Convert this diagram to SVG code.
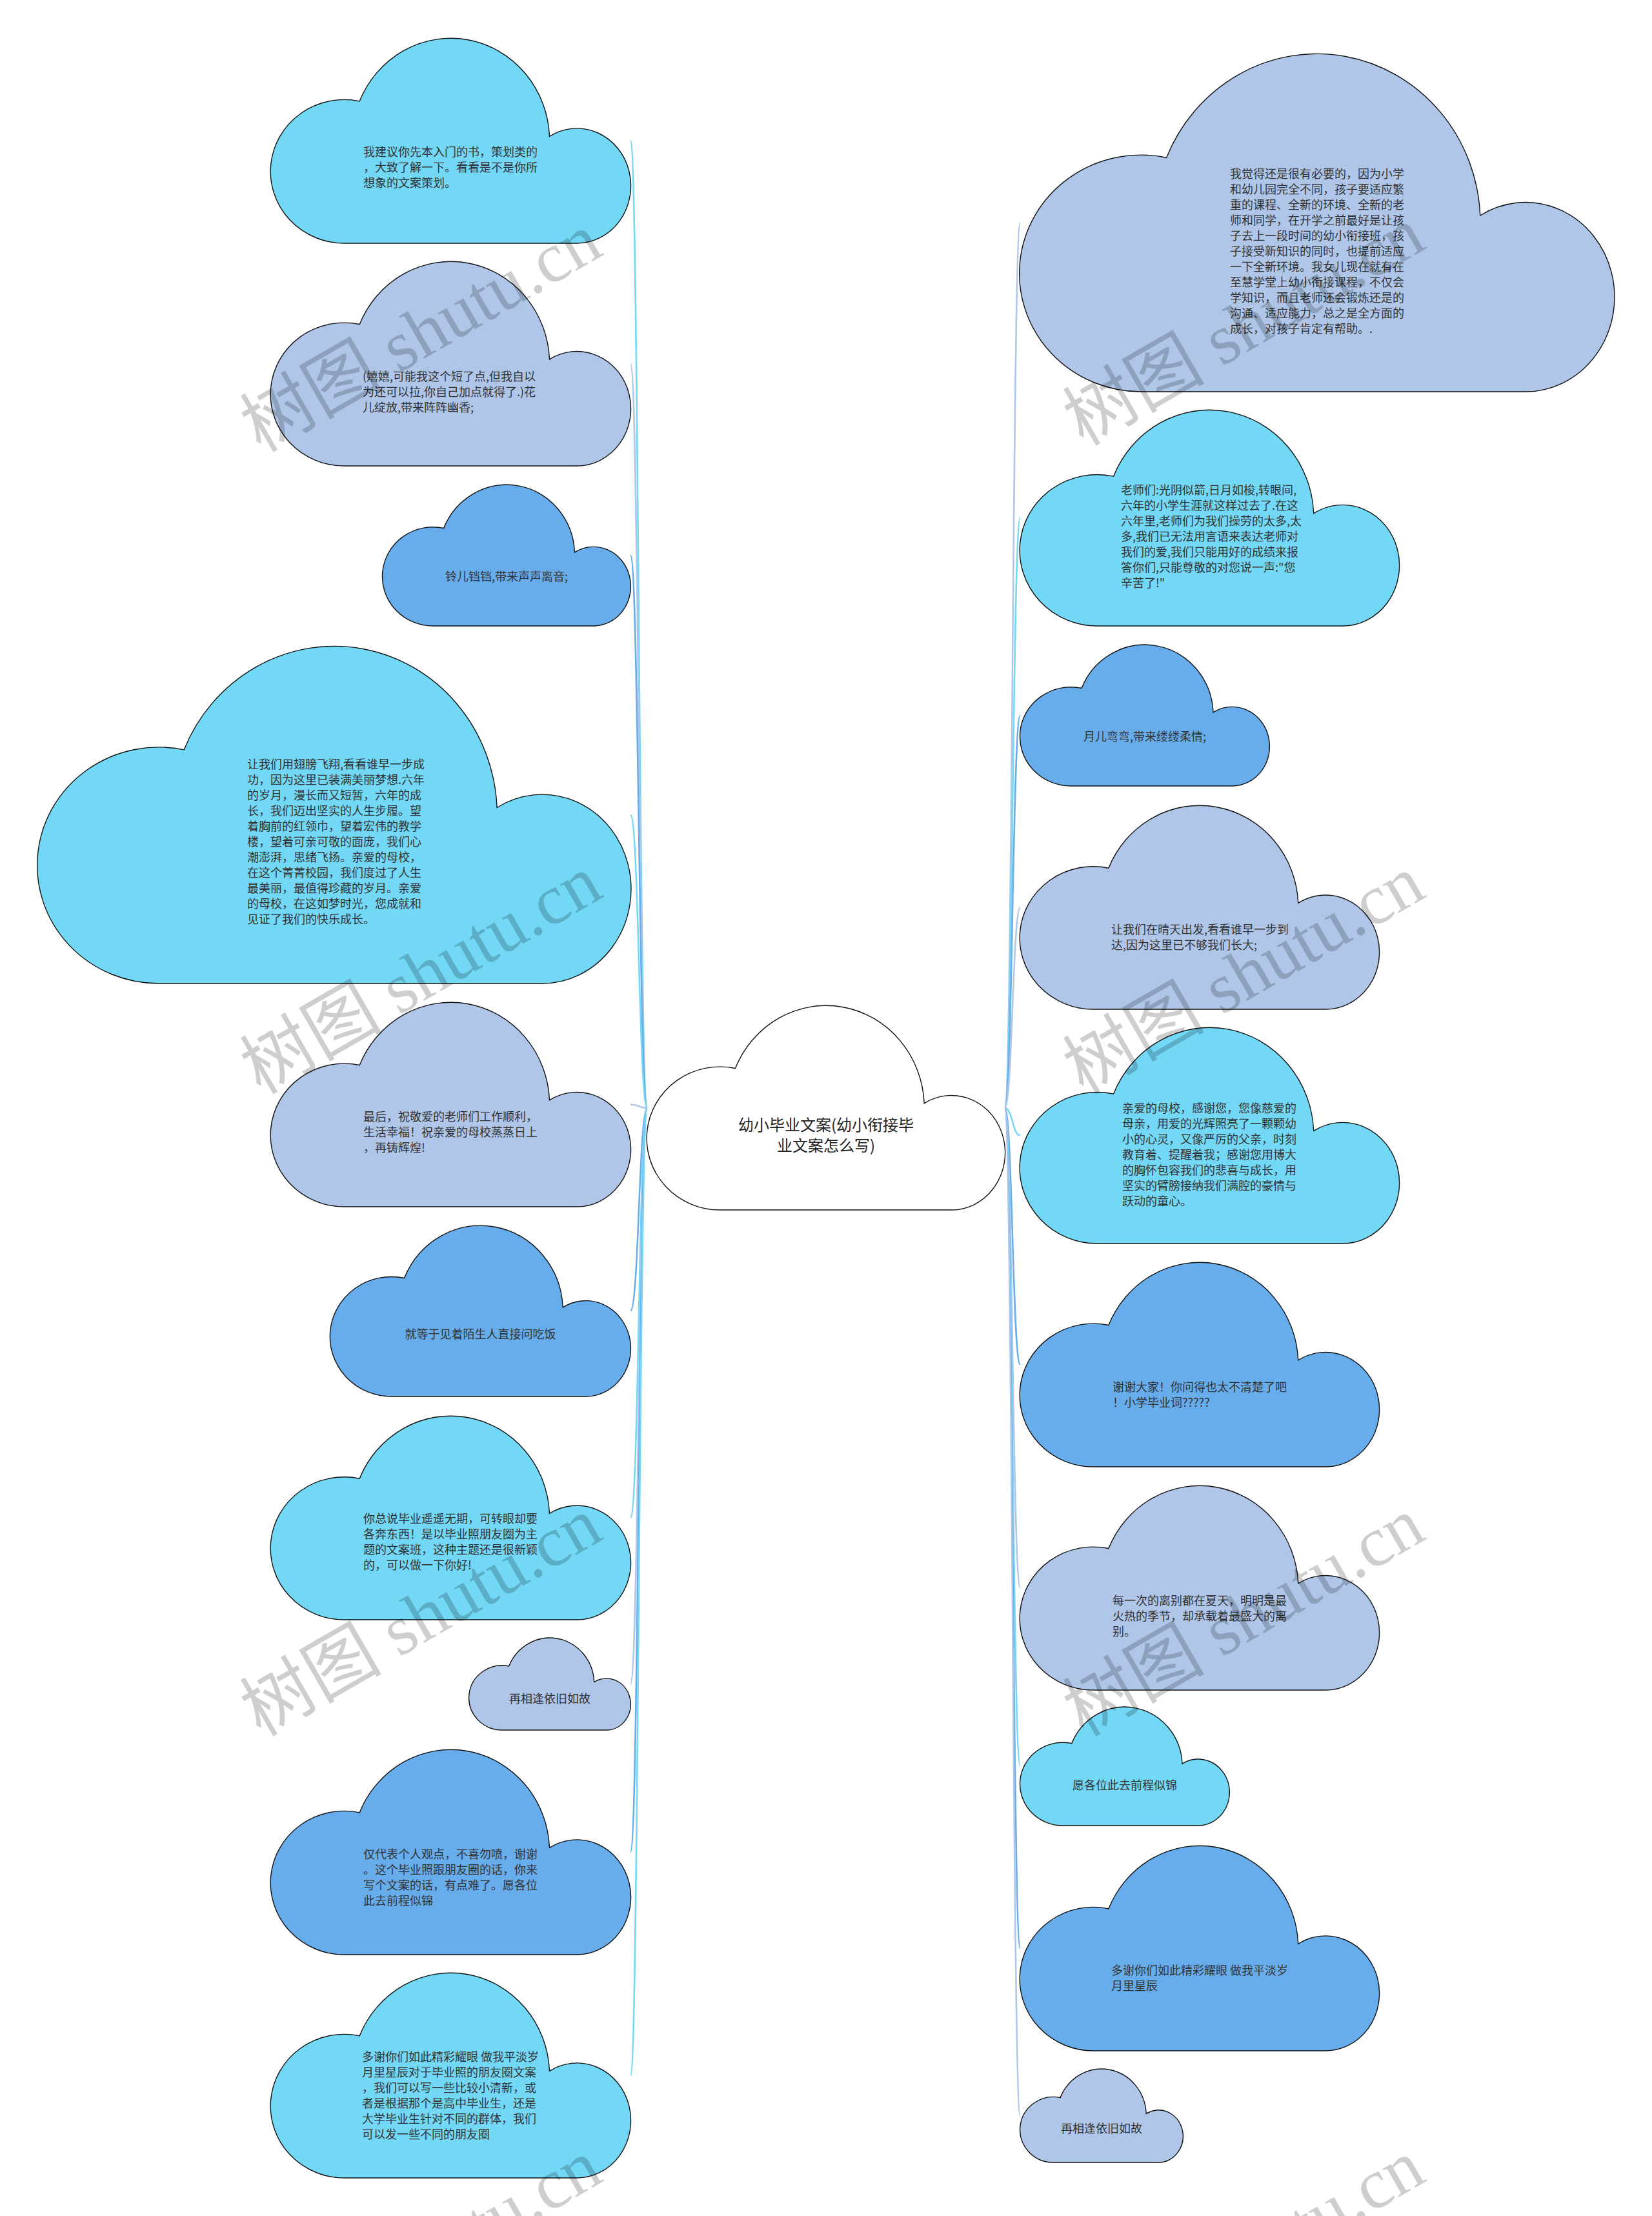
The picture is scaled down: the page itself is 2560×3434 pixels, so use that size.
<svg xmlns="http://www.w3.org/2000/svg" width="2560" height="3434" viewBox="0 0 2560 3434">
<defs>
<path id="cloud" d="M20.5 100 A20.5 35 0 1 1 24.63 30.77 A27.5 50 0 0 1 77.47 47.9 A15 28 0 1 1 85 100 Z" vector-effect="non-scaling-stroke"/>
</defs>
<style>
.cloud{stroke:#111111;stroke-width:1.4}
.c1{fill:#72D8F5}.c2{fill:#AFC6E9}.c3{fill:#67ADEC}.c0{fill:#ffffff}
.t{font-family:"Noto Sans CJK SC","Noto Sans",sans-serif;font-size:18px;fill:#333333}
.tc{font-size:24px;fill:#222222}
.m{text-anchor:middle}
.e{fill:none;stroke-width:2.5}
.e1{stroke:#72D8F5}.e2{stroke:#AFC6E9}.e3{stroke:#67ADEC}
.wm{font-family:"Liberation Serif","Noto Sans CJK SC",serif;font-size:110px;fill:#000000;opacity:0.19;text-anchor:middle}
</style>
<rect width="2560" height="3434" fill="#ffffff"/>
<g id="connectors">
<path class="e e1" d="M1003 1717 C990 1717 990 218 977 218"/>
<path class="e e2" d="M1003 1717 C990 1717 990 563.5 977 563.5"/>
<path class="e e3" d="M1003 1717 C990 1717 990 860.5 977 860.5"/>
<path class="e e1" d="M1003 1717 C990 1717 990 1262.5 977 1262.5"/>
<path class="e e2" d="M1003 1717 C990 1717 990 1711.5 977 1711.5"/>
<path class="e e3" d="M1003 1717 C990 1717 990 2031.5 977 2031.5"/>
<path class="e e1" d="M1003 1717 C990 1717 990 2352 977 2352"/>
<path class="e e2" d="M1003 1717 C990 1717 990 2609.5 977 2609.5"/>
<path class="e e3" d="M1003 1717 C990 1717 990 2870 977 2870"/>
<path class="e e1" d="M1003 1717 C990 1717 990 3216 977 3216"/>
<path class="e e2" d="M1557 1717 C1569 1717 1569 345 1581 345"/>
<path class="e e1" d="M1557 1717 C1569 1717 1569 802.5 1581 802.5"/>
<path class="e e3" d="M1557 1717 C1569 1717 1569 1108.5 1581 1108.5"/>
<path class="e e2" d="M1557 1717 C1569 1717 1569 1406 1581 1406"/>
<path class="e e1" d="M1557 1717 C1569 1717 1569 1759.5 1581 1759.5"/>
<path class="e e3" d="M1557 1717 C1569 1717 1569 2114.5 1581 2114.5"/>
<path class="e e2" d="M1557 1717 C1569 1717 1569 2460.5 1581 2460.5"/>
<path class="e e1" d="M1557 1717 C1569 1717 1569 2737 1581 2737"/>
<path class="e e3" d="M1557 1717 C1569 1717 1569 3019 1581 3019"/>
<path class="e e2" d="M1557 1717 C1569 1717 1569 3278.5 1581 3278.5"/>
</g>
<g id="center">
<use href="#cloud" class="cloud c0" transform="translate(1003 1558) scale(5.54 3.17)"/>
<text class="t tc m"><tspan x="1280" y="1752">幼小毕业文案(幼小衔接毕</tspan><tspan x="1280" y="1784">业文案怎么写)</tspan></text>
</g>
<g id="L1">
<use href="#cloud" class="cloud c1" transform="translate(420 59) scale(5.57 3.18)"/>
<text class="t"><tspan x="563" y="242">我建议你先本入门的书，策划类的</tspan><tspan x="563" y="266">，大致了解一下。看看是不是你所</tspan><tspan x="563" y="290">想象的文案策划。</tspan></text>
</g>
<g id="L2">
<use href="#cloud" class="cloud c2" transform="translate(420 405) scale(5.57 3.17)"/>
<text class="t"><tspan x="562" y="590">(嬉嬉,可能我这个短了点,但我自以</tspan><tspan x="562" y="614">为还可以拉,你自己加点就得了.)花</tspan><tspan x="562" y="638">儿绽放,带来阵阵幽香;</tspan></text>
</g>
<g id="L3">
<use href="#cloud" class="cloud c3" transform="translate(593 751) scale(3.84 2.19)"/>
<text class="t m" x="785" y="900">铃儿铛铛,带来声声离音;</text>
</g>
<g id="L4">
<use href="#cloud" class="cloud c1" transform="translate(59 1001) scale(9.18 5.23)"/>
<text class="t"><tspan x="383" y="1191">让我们用翅膀飞翔,看看谁早一步成</tspan><tspan x="383" y="1215">功，因为这里已装满美丽梦想.六年</tspan><tspan x="383" y="1239">的岁月，漫长而又短暂，六年的成</tspan><tspan x="383" y="1263">长，我们迈出坚实的人生步履。望</tspan><tspan x="383" y="1287">着胸前的红领巾，望着宏伟的教学</tspan><tspan x="383" y="1311">楼，望着可亲可敬的面庞，我们心</tspan><tspan x="383" y="1335">潮澎湃，思绪飞扬。亲爱的母校，</tspan><tspan x="383" y="1359">在这个菁菁校园，我们度过了人生</tspan><tspan x="383" y="1383">最美丽，最值得珍藏的岁月。亲爱</tspan><tspan x="383" y="1407">的母校，在这如梦时光，您成就和</tspan><tspan x="383" y="1431">见证了我们的快乐成长。</tspan></text>
</g>
<g id="L5">
<use href="#cloud" class="cloud c2" transform="translate(420 1553) scale(5.57 3.17)"/>
<text class="t"><tspan x="563" y="1737">最后，祝敬爱的老师们工作顺利，</tspan><tspan x="563" y="1761">生活幸福！祝亲爱的母校蒸蒸日上</tspan><tspan x="563" y="1785">，再铸辉煌!</tspan></text>
</g>
<g id="L6">
<use href="#cloud" class="cloud c3" transform="translate(512 1899) scale(4.65 2.65)"/>
<text class="t m" x="744.5" y="2074">就等于见着陌生人直接问吃饭</text>
</g>
<g id="L7">
<use href="#cloud" class="cloud c1" transform="translate(420 2194) scale(5.57 3.16)"/>
<text class="t"><tspan x="563" y="2360">你总说毕业遥遥无期，可转眼却要</tspan><tspan x="563" y="2384">各奔东西！是以毕业照朋友圈为主</tspan><tspan x="563" y="2408">题的文案班，这种主题还是很新颖</tspan><tspan x="563" y="2432">的，可以做一下你好!</tspan></text>
</g>
<g id="L8">
<use href="#cloud" class="cloud c2" transform="translate(727 2538) scale(2.5 1.43)"/>
<text class="t m" x="852" y="2639">再相逢依旧如故</text>
</g>
<g id="L9">
<use href="#cloud" class="cloud c3" transform="translate(420 2711) scale(5.57 3.18)"/>
<text class="t"><tspan x="563" y="2880">仅代表个人观点，不喜勿喷，谢谢</tspan><tspan x="563" y="2904">。这个毕业照跟朋友圈的话，你来</tspan><tspan x="563" y="2928">写个文案的话，有点难了。愿各位</tspan><tspan x="563" y="2952">此去前程似锦</tspan></text>
</g>
<g id="L10">
<use href="#cloud" class="cloud c1" transform="translate(420 3057) scale(5.57 3.18)"/>
<text class="t"><tspan x="561" y="3194">多谢你们如此精彩耀眼 做我平淡岁</tspan><tspan x="561" y="3218">月里星辰对于毕业照的朋友圈文案</tspan><tspan x="561" y="3242">，我们可以写一些比较小清新，或</tspan><tspan x="561" y="3266">者是根据那个是高中毕业生，还是</tspan><tspan x="561" y="3290">大学毕业生针对不同的群体，我们</tspan><tspan x="561" y="3314">可以发一些不同的朋友圈</tspan></text>
</g>
<g id="R1">
<use href="#cloud" class="cloud c2" transform="translate(1581 83) scale(9.2 5.24)"/>
<text class="t"><tspan x="1906" y="276">我觉得还是很有必要的，因为小学</tspan><tspan x="1906" y="300">和幼儿园完全不同，孩子要适应繁</tspan><tspan x="1906" y="324">重的课程、全新的环境、全新的老</tspan><tspan x="1906" y="348">师和同学，在开学之前最好是让孩</tspan><tspan x="1906" y="372">子去上一段时间的幼小衔接班，孩</tspan><tspan x="1906" y="396">子接受新知识的同时，也提前适应</tspan><tspan x="1906" y="420">一下全新环境。我女儿现在就有在</tspan><tspan x="1906" y="444">至慧学堂上幼小衔接课程，不仅会</tspan><tspan x="1906" y="468">学知识，而且老师还会锻炼还是的</tspan><tspan x="1906" y="492">沟通、适应能力，总之是全方面的</tspan><tspan x="1906" y="516">成长，对孩子肯定有帮助。.</tspan></text>
</g>
<g id="R2">
<use href="#cloud" class="cloud c1" transform="translate(1581 635) scale(5.87 3.35)"/>
<text class="t"><tspan x="1737" y="766">老师们:光阴似箭,日月如梭,转眼间,</tspan><tspan x="1737" y="790">六年的小学生涯就这样过去了.在这</tspan><tspan x="1737" y="814">六年里,老师们为我们操劳的太多,太</tspan><tspan x="1737" y="838">多,我们已无法用言语来表达老师对</tspan><tspan x="1737" y="862">我们的爱,我们只能用好的成绩来报</tspan><tspan x="1737" y="886">答你们,只能尊敬的对您说一声:"您</tspan><tspan x="1737" y="910">辛苦了!"</tspan></text>
</g>
<g id="R3">
<use href="#cloud" class="cloud c3" transform="translate(1581 999) scale(3.86 2.19)"/>
<text class="t m" x="1774" y="1148">月儿弯弯,带来缕缕柔情;</text>
</g>
<g id="R4">
<use href="#cloud" class="cloud c2" transform="translate(1581 1248) scale(5.56 3.16)"/>
<text class="t"><tspan x="1722" y="1447">让我们在晴天出发,看看谁早一步到</tspan><tspan x="1722" y="1471">达,因为这里已不够我们长大;</tspan></text>
</g>
<g id="R5">
<use href="#cloud" class="cloud c1" transform="translate(1581 1592) scale(5.87 3.35)"/>
<text class="t"><tspan x="1739" y="1724">亲爱的母校，感谢您，您像慈爱的</tspan><tspan x="1739" y="1748">母亲，用爱的光辉照亮了一颗颗幼</tspan><tspan x="1739" y="1772">小的心灵，又像严厉的父亲，时刻</tspan><tspan x="1739" y="1796">教育着、提醒着我；感谢您用博大</tspan><tspan x="1739" y="1820">的胸怀包容我们的悲喜与成长，用</tspan><tspan x="1739" y="1844">坚实的臂膀接纳我们满腔的豪情与</tspan><tspan x="1739" y="1868">跃动的童心。</tspan></text>
</g>
<g id="R6">
<use href="#cloud" class="cloud c3" transform="translate(1581 1956) scale(5.56 3.17)"/>
<text class="t"><tspan x="1724" y="2156">谢谢大家！你问得也太不清楚了吧</tspan><tspan x="1724" y="2180">！小学毕业词?????</tspan></text>
</g>
<g id="R7">
<use href="#cloud" class="cloud c2" transform="translate(1581 2302) scale(5.56 3.17)"/>
<text class="t"><tspan x="1724" y="2487">每一次的离别都在夏天，明明是最</tspan><tspan x="1724" y="2511">火热的季节，却承载着最盛大的离</tspan><tspan x="1724" y="2535">别。</tspan></text>
</g>
<g id="R8">
<use href="#cloud" class="cloud c1" transform="translate(1581 2645) scale(3.24 1.84)"/>
<text class="t m" x="1743" y="2773">愿各位此去前程似锦</text>
</g>
<g id="R9">
<use href="#cloud" class="cloud c3" transform="translate(1581 2860) scale(5.56 3.18)"/>
<text class="t"><tspan x="1722" y="3060">多谢你们如此精彩耀眼 做我平淡岁</tspan><tspan x="1722" y="3084">月里星辰</tspan></text>
</g>
<g id="R10">
<use href="#cloud" class="cloud c2" transform="translate(1581 3206) scale(2.52 1.45)"/>
<text class="t m" x="1707" y="3305">再相逢依旧如故</text>
</g>
<g id="watermarks">
<text class="wm" x="652" y="553" transform="rotate(-30 652 515)">树图 shutu.cn</text>
<text class="wm" x="652" y="1548" transform="rotate(-30 652 1510)">树图 shutu.cn</text>
<text class="wm" x="652" y="2543" transform="rotate(-30 652 2505)">树图 shutu.cn</text>
<text class="wm" x="652" y="3538" transform="rotate(-30 652 3500)">树图 shutu.cn</text>
<text class="wm" x="1927" y="543" transform="rotate(-30 1927 505)">树图 shutu.cn</text>
<text class="wm" x="1927" y="1548" transform="rotate(-30 1927 1510)">树图 shutu.cn</text>
<text class="wm" x="1927" y="2543" transform="rotate(-30 1927 2505)">树图 shutu.cn</text>
<text class="wm" x="1927" y="3538" transform="rotate(-30 1927 3500)">树图 shutu.cn</text>
</g>
</svg>
